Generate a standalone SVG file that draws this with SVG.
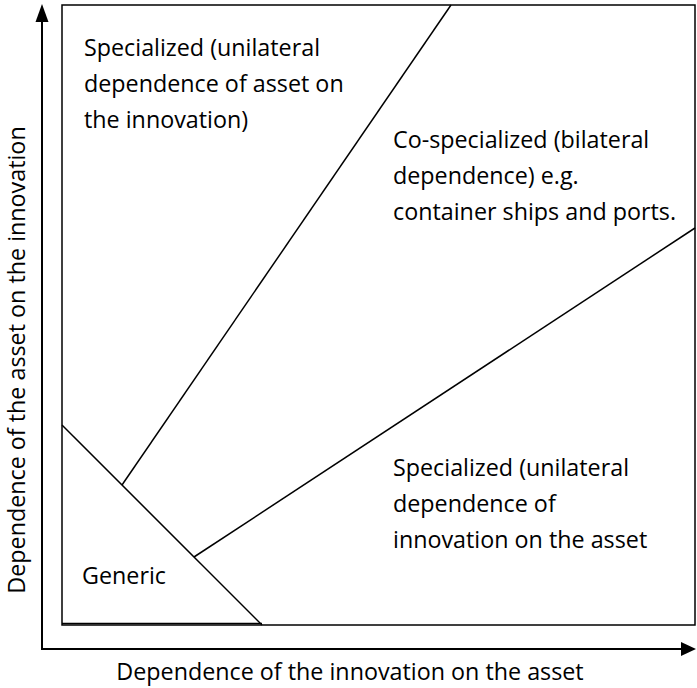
<svg xmlns="http://www.w3.org/2000/svg" width="697" height="688" viewBox="0 0 697 688">
<style>
text{font-family:"Open Sans","Liberation Sans",sans-serif;font-size:23.3px;fill:#000}
.ln{stroke:#000;stroke-width:1.5;fill:none}
.ax{stroke:#000;stroke-width:2;fill:none}
</style>
<rect width="697" height="688" fill="#fff"/>
<g id="axes">
<line class="ax" x1="42" y1="649" x2="42" y2="7"/>
<path d="M42,4 L35.5,22 L48.5,22 Z" fill="#000"/>
<line class="ax" x1="41" y1="649" x2="682" y2="649"/>
<path d="M696,649 L681,642 L681,656 Z" fill="#000"/>
</g>
<g id="frame">
<rect class="ln" x="62" y="5" width="633" height="620" stroke-width="2"/>
</g>
<g id="connectors">
<line class="ln" x1="62" y1="425" x2="262" y2="625"/>
<line class="ln" x1="62" y1="623.5" x2="262" y2="623.5"/>
<line class="ln" x1="122" y1="485" x2="451" y2="5"/>
<line class="ln" x1="194" y1="557" x2="695" y2="228"/>
</g>
<g id="specialized-asset">
<text x="84" y="56">Specialized (unilateral</text>
<text x="84" y="92">dependence of asset on</text>
<text x="84" y="128">the innovation)</text>
</g>
<g id="co-specialized">
<text x="393" y="148">Co-specialized (bilateral</text>
<text x="393" y="184">dependence) e.g.</text>
<text x="393" y="220">container ships and ports.</text>
</g>
<g id="specialized-innovation">
<text x="393" y="476">Specialized (unilateral</text>
<text x="393" y="512">dependence of</text>
<text x="393" y="548">innovation on the asset</text>
</g>
<g id="generic">
<text x="82" y="584">Generic</text>
</g>
<g id="labels">
<text x="350" y="680" text-anchor="middle">Dependence of the innovation on the asset</text>
<text x="0" y="0" text-anchor="middle" transform="translate(25,360) rotate(-90)">Dependence of the asset on the innovation</text>
</g>
</svg>
